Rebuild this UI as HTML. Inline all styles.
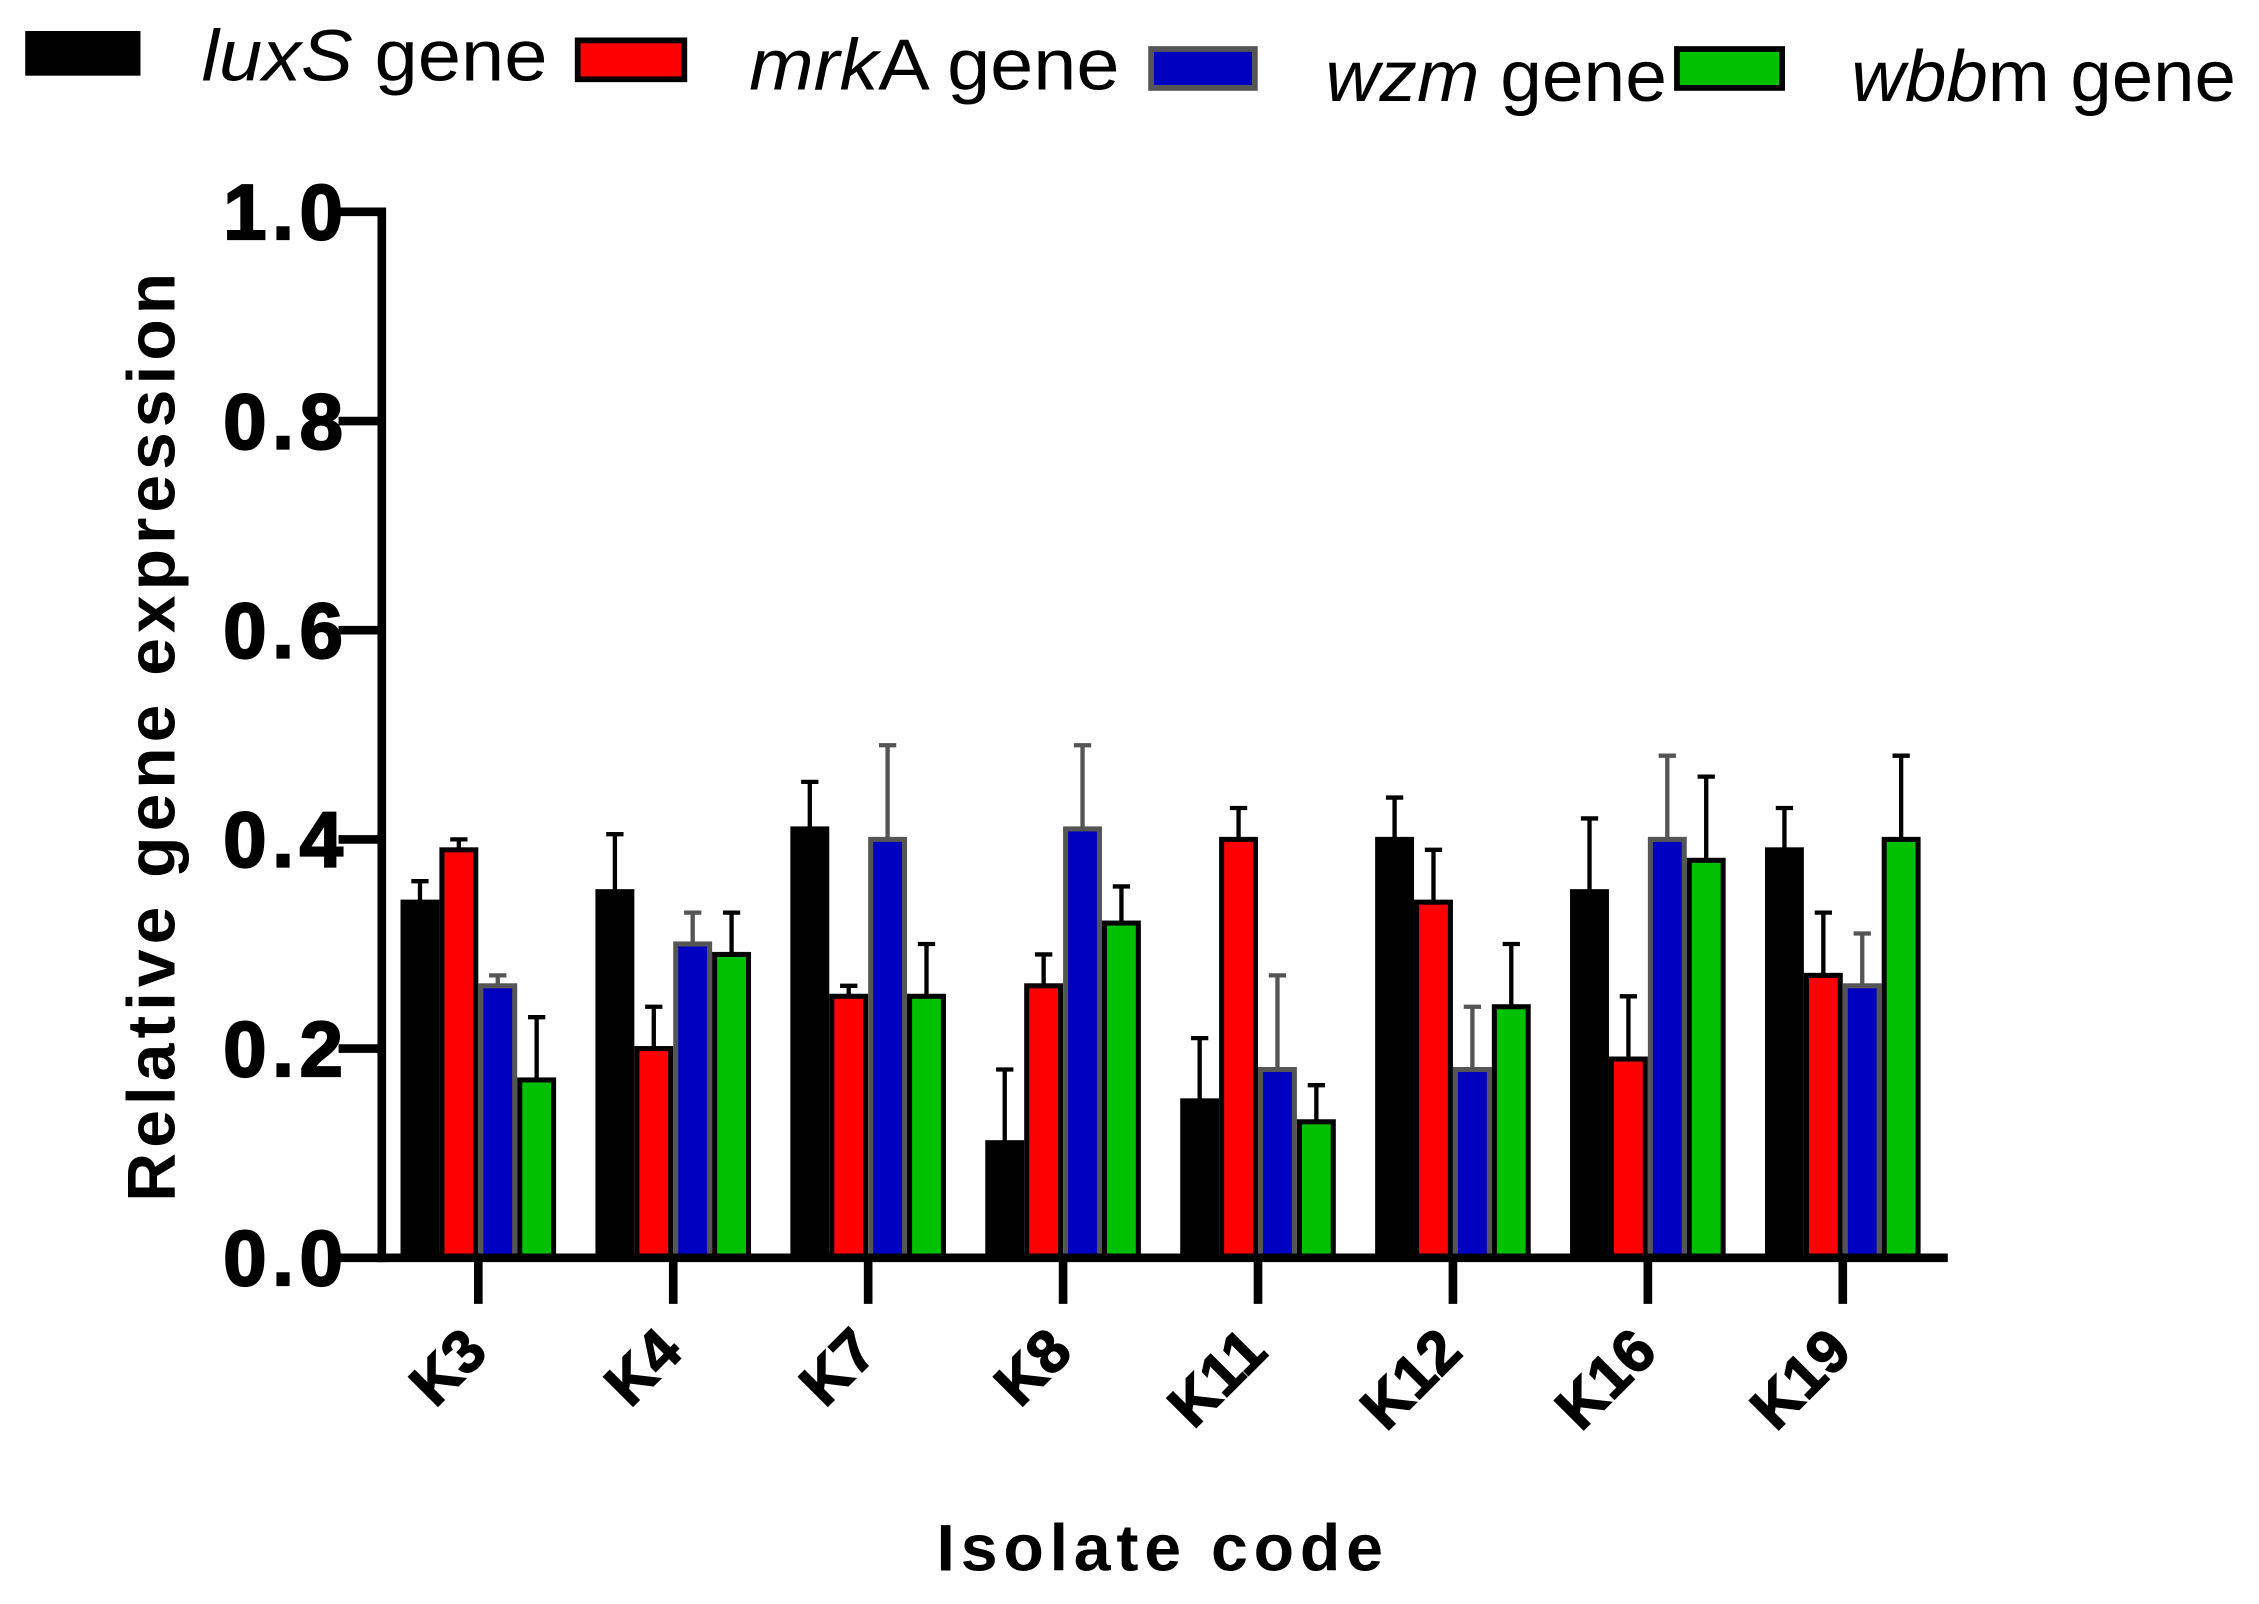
<!DOCTYPE html>
<html><head><meta charset="utf-8"><style>
html,body{margin:0;padding:0;background:#fff;}
svg{display:block;}
text{font-family:"Liberation Sans",Arial,sans-serif;}
</style></head><body>
<svg id="chart" width="2259" height="1604" viewBox="0 0 1568 1113.3" xmlns="http://www.w3.org/2000/svg">
<g id="legend">
  <rect x="19" y="23" width="77" height="28" fill="#000" stroke="#000" stroke-width="3"/>
  <text x="140" y="56" font-size="50" textLength="240" lengthAdjust="spacingAndGlyphs"><tspan font-style="italic">luxS</tspan> gene</text>
  <rect x="401" y="28" width="74" height="27" fill="#ff0000" stroke="#000" stroke-width="4"/>
  <text x="520" y="62" font-size="50" textLength="257" lengthAdjust="spacingAndGlyphs"><tspan font-style="italic">mrk</tspan>A gene</text>
  <rect x="799" y="34" width="72" height="27" fill="#0000c0" stroke="#555" stroke-width="4"/>
  <text x="920" y="70" font-size="50" textLength="237" lengthAdjust="spacingAndGlyphs"><tspan font-style="italic">wzm</tspan> gene</text>
  <rect x="1164" y="34" width="73" height="27" fill="#00c000" stroke="#000" stroke-width="4"/>
  <text x="1285" y="70" font-size="50" textLength="267" lengthAdjust="spacingAndGlyphs"><tspan font-style="italic">wbb</tspan>m gene</text>
</g>
<g id="bars"></g>
<g id="axes"></g>
<text transform="translate(121,510) rotate(-90)" text-anchor="middle" font-size="47" font-weight="bold" letter-spacing="3.5">Relative gene expression</text>
<text x="807" y="1090" text-anchor="middle" font-size="46" font-weight="bold" letter-spacing="4">Isolate code</text>
</svg>
<script>
const categories = ["K3","K4","K7","K8","K11","K12","K16","K19"];
const luxS = [0.34,0.35,0.41,0.11,0.15,0.40,0.35,0.39];
const mrkA = [0.39,0.20,0.25,0.26,0.40,0.34,0.19,0.27];
const wzm  = [0.26,0.30,0.40,0.41,0.18,0.18,0.40,0.26];
const wbbm = [0.17,0.29,0.25,0.32,0.13,0.24,0.38,0.40];
const luxSErr = [0.02,0.055,0.045,0.07,0.06,0.04,0.07,0.04];
const mrkAErr = [0.01,0.04,0.01,0.03,0.03,0.05,0.06,0.06];
const wzmErr  = [0.01,0.03,0.09,0.08,0.09,0.06,0.08,0.05];
const wbbmErr = [0.06,0.04,0.05,0.035,0.035,0.06,0.08,0.08];
const yTicks = ["0.0","0.2","0.4","0.6","0.8","1.0"];

const NS="http://www.w3.org/2000/svg";
const y0=873, y1=147, axX=265, axEnd=1352;
const yScale=v=>y0-(y0-y1)*v;
const xCenter=i=>332+i*135.3;
const series=[
 {name:"luxs",vals:luxS,err:luxSErr,fill:"#000",stroke:"#000",ec:"#000"},
 {name:"mrka",vals:mrkA,err:mrkAErr,fill:"#ff0000",stroke:"#000",ec:"#000"},
 {name:"wzm",vals:wzm,err:wzmErr,fill:"#0000c0",stroke:"#555",ec:"#555"},
 {name:"wbbm",vals:wbbm,err:wbbmErr,fill:"#00c000",stroke:"#000",ec:"#000"}];
const bw=27;
function mk(tag,attrs,parent){const e=document.createElementNS(NS,tag);for(const k in attrs)e.setAttribute(k,attrs[k]);parent.appendChild(e);return e;}
const bars=document.getElementById('bars');
categories.forEach((c,i)=>{
  series.forEach((s,j)=>{
    const x=xCenter(i)-54+j*bw;
    const top=yScale(s.vals[i]);
    const etop=yScale(s.vals[i]+s.err[i]);
    const cx=x+bw/2;
    const eb=mk('path',{d:`M${cx},${top} L${cx},${etop} M${cx-6},${etop} L${cx+6},${etop}`,stroke:s.ec,'stroke-width':3,fill:'none'},bars);
    
    
    const r=mk('rect',{x:x+1.75,y:top,width:bw-3.5,height:y0-top,fill:s.fill,stroke:s.stroke,'stroke-width':3.5},bars);
    
    
  });
});
const axes=document.getElementById('axes');
const ya=mk('line',{x1:axX,y1:y1-3,x2:axX,y2:y0+3,stroke:'#000','stroke-width':6},axes);


const xa=mk('line',{x1:axX-3,y1:y0,x2:axEnd,y2:y0,stroke:'#000','stroke-width':6},axes);


yTicks.forEach(t=>{
  const y=yScale(parseFloat(t));
  const tk=mk('line',{x1:axX-30,y1:y,x2:axX,y2:y,stroke:'#000','stroke-width':6},axes);
  
  
  const tl=mk('text',{x:242,y:y+19,'text-anchor':'end','font-size':54,'font-weight':'bold','letter-spacing':4,stroke:'#000','stroke-width':1.5},axes);
  tl.textContent=t;
  
  
});
categories.forEach((c,i)=>{
  const x=xCenter(i);
  const tk=mk('line',{x1:x,y1:y0,x2:x,y2:y0+32,stroke:'#000','stroke-width':6},axes);
  
  
  const tl=mk('text',{transform:`translate(${x+8},${940}) rotate(-45)`,'text-anchor':'end','font-size':42,'font-weight':'bold',stroke:'#000','stroke-width':1},axes);
  tl.textContent=c;
  
  
});
</script>
</body></html>
